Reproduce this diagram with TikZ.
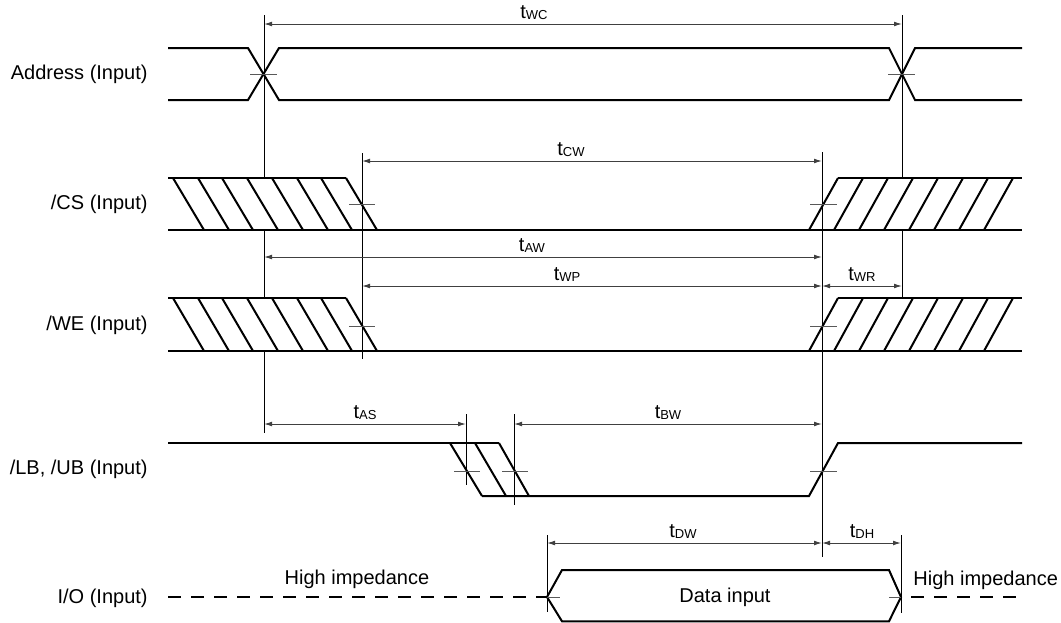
\documentclass[tikz,border=0pt]{standalone}
\usepackage{fontspec}
\setmainfont{Liberation Sans}
\usetikzlibrary{arrows.meta}
\newcommand{\tsub}[1]{t{\fontsize{6.5}{7}\selectfont\raisebox{-0.5pt}{#1}}}

\begin{document}
\begin{tikzpicture}[x=0.5pt,y=-0.5pt,>={Latex[length=4pt,width=2.4pt]},
	sig/.style={line width=1pt},
	guide/.style={line width=0.5pt},
	tick/.style={line width=0.5pt,black!65},
	dim/.style={<->,line width=0.5pt,black!75},
	lbl/.style={font=\fontsize{10}{12}\selectfont,inner sep=0pt}]
\useasboundingbox (0,0) rectangle (1061,622);
\node [lbl,anchor=east] (addr) at (148,74) {Address (Input)};
\node [lbl,anchor=east] (cs) at (148,204) {/CS (Input)};
\node [lbl,anchor=east] (we) at (148,325) {/WE (Input)};
\node [lbl,anchor=east] (lbub) at (148,469) {/LB, /UB (Input)};
\node [lbl,anchor=east] (io) at (148,598) {I/O (Input)};
\draw [sig] (168,48) -- (248,48) -- (279,100) -- (889,100) -- (915,48) -- (1022,48);
\draw [sig] (168,100) -- (248,100) -- (279,48) -- (889,48) -- (915,100) -- (1022,100);
\draw [sig] (168,178) -- (346,178);
\draw [sig] (838,178) -- (1022,178);
\draw [sig] (168,230) -- (1022,230);
\draw [sig] (173,178) -- (204,230);
\draw [sig] (198,178) -- (229,230);
\draw [sig] (222,178) -- (253,230);
\draw [sig] (247,178) -- (278,230);
\draw [sig] (272,178) -- (303,230);
\draw [sig] (297,178) -- (328,230);
\draw [sig] (321,178) -- (352,230);
\draw [sig] (346,178) -- (377,230);
\draw [sig] (809,230) -- (838,178);
\draw [sig] (834,230) -- (863,178);
\draw [sig] (859,230) -- (888,178);
\draw [sig] (884,230) -- (913,178);
\draw [sig] (909,230) -- (938,178);
\draw [sig] (934,230) -- (963,178);
\draw [sig] (959,230) -- (988,178);
\draw [sig] (984,230) -- (1013,178);
\draw [sig] (168,298) -- (346,298);
\draw [sig] (838,298) -- (1022,298);
\draw [sig] (168,351) -- (1022,351);
\draw [sig] (173,298) -- (204,351);
\draw [sig] (198,298) -- (229,351);
\draw [sig] (222,298) -- (253,351);
\draw [sig] (247,298) -- (278,351);
\draw [sig] (272,298) -- (303,351);
\draw [sig] (297,298) -- (328,351);
\draw [sig] (321,298) -- (352,351);
\draw [sig] (346,298) -- (377,351);
\draw [sig] (809,351) -- (838,298);
\draw [sig] (834,351) -- (863,298);
\draw [sig] (859,351) -- (888,298);
\draw [sig] (884,351) -- (913,298);
\draw [sig] (909,351) -- (938,298);
\draw [sig] (934,351) -- (963,298);
\draw [sig] (959,351) -- (988,298);
\draw [sig] (984,351) -- (1013,298);
\draw [sig] (168,443) -- (499,443);
\draw [sig] (450,443) -- (482,496);
\draw [sig] (475,443) -- (506,496);
\draw [sig] (499,443) -- (529,496);
\draw [sig] (482,496) -- (809,496) -- (838,443) -- (1022,443);
\draw [sig,dash pattern=on 6.5pt off 5pt] (168,597) -- (547,597);
\draw [sig,dash pattern=on 6.5pt off 5pt] (911,597) -- (1022,597);
\draw [sig] (547,597) -- (562,570) -- (889,570) -- (901,597) -- (889,621.3) -- (562,621.3) -- cycle;
\draw [guide] (264,15) -- (264,178);
\draw [guide] (264,230) -- (264,298);
\draw [guide] (264,351) -- (264,433);
\draw [guide] (902,15) -- (902,178);
\draw [guide] (902,230) -- (902,298);
\draw [guide] (362,153) -- (362,359);
\draw [guide] (822,152) -- (822,557);
\draw [guide] (466,414) -- (466,485);
\draw [guide] (514,414) -- (514,505);
\draw [guide] (547,535) -- (547,612);
\draw [guide] (901,535) -- (901,613);
\draw [tick] (250,74) -- (277,74);
\draw [tick] (888,74) -- (915,74);
\draw [tick] (349,204) -- (375,204);
\draw [tick] (810,204) -- (837,204);
\draw [tick] (349,326) -- (375,326);
\draw [tick] (810,326) -- (837,326);
\draw [tick] (454,471) -- (480,471);
\draw [tick] (502,471) -- (528,471);
\draw [tick] (810,471) -- (837,471);
\draw [tick] (547,597) -- (560,597);
\draw [tick] (889,597) -- (901,597);
\draw [dim] (264,24) -- (902,24);
\draw [dim] (362,161) -- (822,161);
\draw [dim] (264,257) -- (822,257);
\draw [dim] (362,286) -- (822,286);
\draw [dim] (822,286) -- (902,286);
\draw [dim] (264,424) -- (466,424);
\draw [dim] (514,424) -- (822,424);
\draw [dim] (547,543) -- (822,543);
\draw [dim] (822,543) -- (901,543);
\node [lbl,anchor=south] (twc) at (534,20) {\tsub{WC}};
\node [lbl,anchor=south] (tcw) at (571,157) {\tsub{CW}};
\node [lbl,anchor=south] (taw) at (532,253) {\tsub{AW}};
\node [lbl,anchor=south] (twp) at (567,282) {\tsub{WP}};
\node [lbl,anchor=south] (twr) at (862,282) {\tsub{WR}};
\node [lbl,anchor=south] (tas) at (365,420) {\tsub{AS}};
\node [lbl,anchor=south] (tbw) at (668,420) {\tsub{BW}};
\node [lbl,anchor=south] (tdw) at (683,539) {\tsub{DW}};
\node [lbl,anchor=south] (tdh) at (862,539) {\tsub{DH}};
\node [lbl] (hiz1) at (357,579) {High impedance};
\node [lbl,anchor=west] (hiz2) at (913,580) {High impedance};
\node [lbl] (din) at (725,597) {Data input};
\end{tikzpicture}
\end{document}
